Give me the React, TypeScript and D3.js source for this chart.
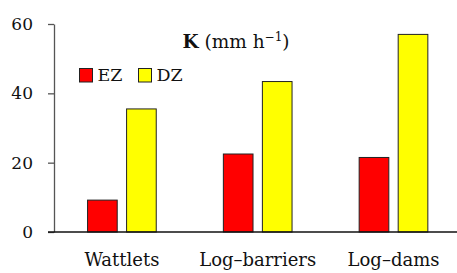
import React, { useEffect, useRef } from 'react';
import * as d3 from 'd3';

// Chart data
const categories = ['Wattlets', 'Log–barriers', 'Log–dams'];
const series = ['EZ', 'DZ'];
const ezValues = [9.2, 22.5, 21.5];
const dzValues = [35.5, 43.4, 57.0];
const yTicks = [0, 20, 40, 60];
const colors = ['#ff0000', '#ffff00'];

const App = () => {
  const ref = useRef<HTMLDivElement>(null);

  useEffect(() => {
    const width = 457;
    const height = 273;
    const font = '"DejaVu Serif", "Liberation Serif", serif';

    d3.select(ref.current).select('svg').remove();

    const svg = d3
      .select(ref.current)
      .append('svg')
      .attr('width', width)
      .attr('height', height)
      .style('position', 'absolute')
      .style('left', '0px')
      .style('top', '0px')
      .style('font-family', font);

    const y = d3.scaleLinear().domain([0, 60]).range([232, 24]);
    const x0 = d3.scaleBand().domain(categories).range([54, 461.4]);
    const x1 = d3
      .scaleBand()
      .domain(series)
      .range([0, x0.bandwidth()])
      .paddingInner(0.24)
      .paddingOuter(0.86);

    const data = categories.map((c, i) => ({
      category: c,
      values: [ezValues[i], dzValues[i]],
    }));

    // Bars
    const groups = svg
      .selectAll('g.group')
      .data(data)
      .enter()
      .append('g')
      .attr('class', 'group')
      .attr('transform', d => `translate(${x0(d.category)},0)`);

    groups
      .selectAll('rect')
      .data(d => d.values.map((v, j) => ({ key: series[j], value: v, color: colors[j] })))
      .enter()
      .append('rect')
      .attr('x', d => x1(d.key)!)
      .attr('y', d => y(d.value))
      .attr('width', x1.bandwidth())
      .attr('height', d => y(0) - y(d.value))
      .attr('fill', d => d.color)
      .attr('stroke', '#222')
      .attr('stroke-width', 1);

    // Y axis
    const yAxis = d3
      .axisLeft(y)
      .tickValues(yTicks)
      .tickSize(6)
      .tickPadding(15)
      .tickSizeOuter(0);
    const gy = svg.append('g').attr('transform', 'translate(54,0)').call(yAxis);
    gy.select('.domain').attr('stroke', '#555').attr('stroke-width', 1.3);
    gy.selectAll('.tick line').attr('stroke', '#555').attr('stroke-width', 1.3);
    gy.selectAll('.tick text')
      .attr('font-size', 17)
      .attr('font-family', font)
      .attr('fill', '#111');

    // X axis line
    svg
      .append('line')
      .attr('x1', 48)
      .attr('x2', width)
      .attr('y1', y(0))
      .attr('y2', y(0))
      .attr('stroke', '#111')
      .attr('stroke-width', 1.3);

    // Category labels
    svg
      .selectAll('text.cat')
      .data(categories)
      .enter()
      .append('text')
      .attr('class', 'cat')
      .attr('x', d => x0(d)! + x0.bandwidth() / 2)
      .attr('y', 266)
      .attr('text-anchor', 'middle')
      .attr('font-size', 18)
      .attr('fill', '#111')
      .text(d => d);

    // Title
    const title = svg
      .append('text')
      .attr('x', 236)
      .attr('y', 48)
      .attr('text-anchor', 'middle')
      .attr('font-size', 18.5)
      .attr('fill', '#111');
    title.append('tspan').attr('font-weight', 'bold').text('K');
    title.append('tspan').text(' (mm h');
    title.append('tspan').attr('dy', -7).attr('font-size', 12).text('−1');
    title.append('tspan').attr('dy', 7).text(')');

    // Legend
    const legendX = [79.5, 138.5];
    const legend = svg
      .selectAll('g.legend')
      .data(series)
      .enter()
      .append('g')
      .attr('class', 'legend')
      .attr('transform', (d, i) => `translate(${legendX[i]},68.5)`);
    legend
      .append('rect')
      .attr('width', 13)
      .attr('height', 13.5)
      .attr('fill', (d, i) => colors[i])
      .attr('stroke', '#222')
      .attr('stroke-width', 1);
    legend
      .append('text')
      .attr('x', 18)
      .attr('y', 12.5)
      .attr('font-size', 17.5)
      .attr('fill', '#111')
      .text(d => d);
  }, []);

  return <div ref={ref}></div>;
};

export default App;
